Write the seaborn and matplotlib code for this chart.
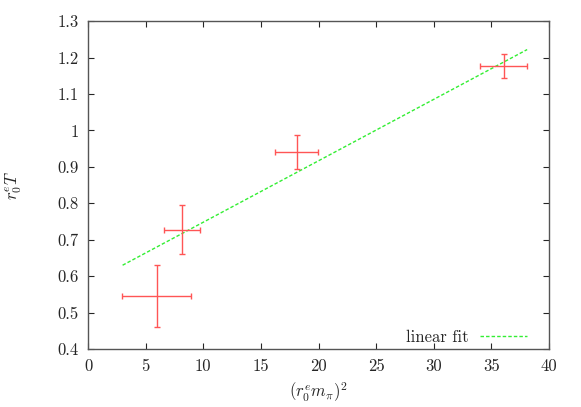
import numpy as np
import pandas as pd
import matplotlib
matplotlib.use("Agg")
import matplotlib.pyplot as plt
import seaborn as sns

# data
x_vals = [5.95, 8.15, 18.1, 36.05]
y_vals = [0.545, 0.728, 0.941, 1.177]
x_err = [3.0, 1.55, 1.85, 2.05]
y_err = [0.085, 0.067, 0.046, 0.033]

fit_x = [3.0, 38.1]
fit_y = [0.630, 1.222]

xticks = [0, 5, 10, 15, 20, 25, 30, 35, 40]
yticks = [0.4, 0.5, 0.6, 0.7, 0.8, 0.9, 1.0, 1.1, 1.2, 1.3]
ytick_labels = ["0.4", "0.5", "0.6", "0.7", "0.8", "0.9", "1", "1.1", "1.2", "1.3"]

sns.set_style("ticks")
plt.rcParams["font.family"] = ["cmr10", "DejaVu Serif"]
plt.rcParams["mathtext.fontset"] = "cm"
plt.rcParams["axes.unicode_minus"] = False

fig = plt.figure(figsize=(5.81, 4.07), dpi=100)
ax = fig.add_axes([0.1515, 0.1425, 0.7935, 0.8055])

fit_df = pd.DataFrame({"x": fit_x, "y": fit_y})
sns.lineplot(data=fit_df, x="x", y="y", ax=ax, color="#33ee33",
             linestyle=(0, (2.5, 1.5)), linewidth=1.0, label="linear fit")

ax.errorbar(x_vals, y_vals, xerr=x_err, yerr=y_err, fmt="none",
            ecolor="#ff5555", elinewidth=1.0, capsize=2.5, capthick=1.0)

ax.set_xlim(0, 40)
ax.set_ylim(0.4, 1.3)
ax.set_xticks(xticks)
ax.set_xticklabels([str(t) for t in xticks])
ax.set_yticks(yticks)
ax.set_yticklabels(ytick_labels)
ax.tick_params(direction="in", top=True, right=True, length=4, width=0.8,
               labelsize=12, pad=7)
for s in ax.spines.values():
    s.set_color("#555555")
    s.set_linewidth(1.0)

ax.set_xlabel(r"$(r_0^e m_\pi)^2$", fontsize=12, labelpad=5)
ax.set_ylabel(r"$r_0^e T$", fontsize=12, labelpad=24)

leg = ax.legend(loc="center right", frameon=False, markerfirst=False,
                fontsize=12, handlelength=2.8, handletextpad=0.7,
                borderpad=0, borderaxespad=0, bbox_to_anchor=(0.952, 0.037))

fig.savefig("out.png", dpi=100)
